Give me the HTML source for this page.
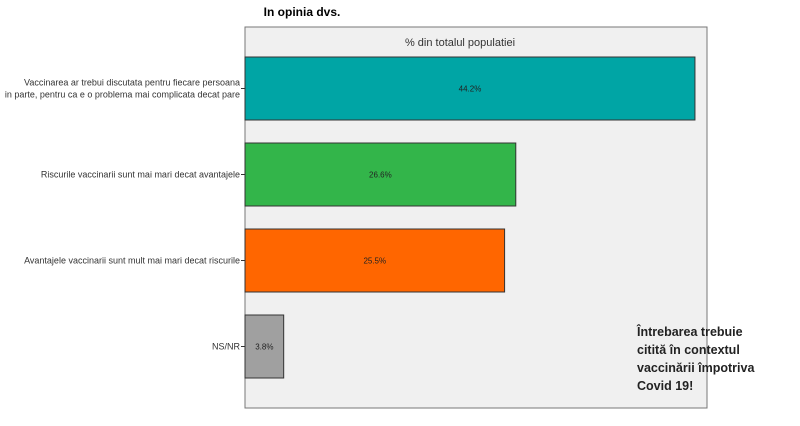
<!DOCTYPE html>
<html><head><meta charset="utf-8"><style>
body{margin:0;background:#fff;width:800px;height:421px;overflow:hidden;font-family:"Liberation Sans",sans-serif}
</style></head><body>
<svg id="chart" width="800" height="421" xmlns="http://www.w3.org/2000/svg">
<text x="302" y="16" text-anchor="middle" font-size="12" font-weight="bold">In opinia dvs.</text>
<rect x="245" y="27" width="462" height="381" fill="#f0f0f0" stroke="#777" stroke-width="1"/>
<text x="460" y="46" text-anchor="middle" font-size="11" fill="#333">% din totalul populatiei</text>
<g id="bars"></g>
<text font-family="'Liberation Sans',sans-serif" font-size="12.5" font-weight="bold" fill="#222">
<tspan x="637" y="336">Întrebarea trebuie</tspan>
<tspan x="637" y="354">citită în contextul</tspan>
<tspan x="637" y="372">vaccinării împotriva</tspan>
<tspan x="637" y="390">Covid 19!</tspan>
</text>
</svg>
<script>
const categories=[["Vaccinarea ar trebui discutata pentru fiecare persoana","in parte, pentru ca e o problema mai complicata decat pare"],["Riscurile vaccinarii sunt mai mari decat avantajele"],["Avantajele vaccinarii sunt mult mai mari decat riscurile"],["NS/NR"]];
const values=[44.2,26.6,25.5,3.8];
const colors=["#00a5a5","#33b54a","#ff6600","#a0a0a0"];
const NS="http://www.w3.org/2000/svg";
const x0=245,pxPer=10.18;
function xs(v){return x0+v*pxPer;}
function yc(i){return 88.5+i*86;}
const g=document.getElementById('bars');
function mk(t,a){const e=document.createElementNS(NS,t);for(const k in a)e.setAttribute(k,a[k]);return e;}
values.forEach((v,i)=>{
 const r=mk('rect',{x:x0,y:yc(i)-31.5,width:xs(v)-x0,height:63,fill:colors[i],stroke:'#333','stroke-width':1});
 
 
 g.appendChild(r);
 const lb=mk('text',{x:(x0+xs(v))/2,y:yc(i)+3,'text-anchor':'middle','font-size':8,fill:'#222'});
 lb.textContent=v.toFixed(1)+'%';
 
 
 g.appendChild(lb);
 const tk=mk('line',{x1:x0-4,x2:x0,y1:yc(i),y2:yc(i),stroke:'#333'});
 
 
 g.appendChild(tk);
 const lines=categories[i];
 lines.forEach((s,j)=>{
  const t=mk('text',{x:x0-5,y:yc(i)+3+(j-(lines.length-1)/2)*12,'text-anchor':'end','font-size':9,fill:'#333'});
  t.textContent=s;
  
  
  g.appendChild(t);
 });
});
</script>
</body></html>
